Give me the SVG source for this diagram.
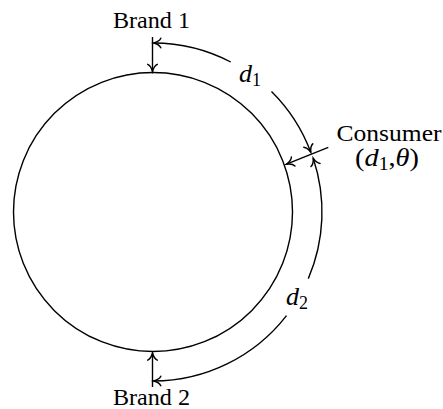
<svg xmlns="http://www.w3.org/2000/svg" width="443" height="409" viewBox="0 0 443 409">
<style>
.ln{fill:none;stroke:#000;stroke-width:1.4}
.t{font-family:"Liberation Serif",serif;font-size:24px;fill:#000}
.m{font-size:26px}
.i{font-style:italic}
.s{font-size:18px}
</style>
<defs>
<marker id="ah" markerUnits="userSpaceOnUse" markerWidth="12" markerHeight="12" viewBox="-7 -5 8 10" refX="0" refY="0" orient="auto-start-reverse">
<path d="M-6,-4 C-5,-1.8 -1.5,-0.4 0,0 C-1.5,0.4 -5,1.8 -6,4" fill="none" stroke="#000" stroke-width="1.2" stroke-linecap="round"/>
</marker>
</defs>
<g id="ring">
<circle class="ln" cx="153" cy="212" r="139.5"/>
</g>
<g id="connectors">
<path class="ln" d="M152.5,37 L152.5,71.5" marker-end="url(#ah)"/>
<path class="ln" d="M152.5,387 L152.5,353" marker-end="url(#ah)"/>
<path class="ln" d="M328.3,147.3 L286.5,164.2" marker-end="url(#ah)"/>
<path class="ln" d="M230.8,62 A169,169 0 0 0 153.6,43" marker-end="url(#ah)"/>
<path class="ln" d="M271.5,91.5 A169,169 0 0 1 310.8,152.3" marker-end="url(#ah)"/>
<path class="ln" d="M308.3,278.6 A169,169 0 0 0 313.2,158.2" marker-end="url(#ah)"/>
<path class="ln" d="M286.5,315.6 A169,169 0 0 1 153.6,381" marker-end="url(#ah)"/>
</g>
<g id="brand1">
<text class="t" x="151.5" y="28" text-anchor="middle" textLength="77" lengthAdjust="spacingAndGlyphs">Brand 1</text>
</g>
<g id="brand2">
<text class="t" x="151.5" y="405" text-anchor="middle" textLength="77" lengthAdjust="spacingAndGlyphs">Brand 2</text>
</g>
<g id="consumer">
<text class="t" x="389" y="140.5" text-anchor="middle" textLength="105" lengthAdjust="spacingAndGlyphs">Consumer</text>
<text class="t m" x="387" y="166" text-anchor="middle" textLength="64" lengthAdjust="spacingAndGlyphs">(<tspan class="i">d</tspan><tspan class="s" dy="4">1</tspan><tspan dy="-4">,</tspan><tspan class="i">θ</tspan>)</text>
</g>
<g id="label-d1">
<text class="t m" x="239" y="81.5"><tspan class="i">d</tspan><tspan class="s" dy="4">1</tspan></text>
</g>
<g id="label-d2">
<text class="t m" x="286" y="305"><tspan class="i">d</tspan><tspan class="s" dy="4">2</tspan></text>
</g>
</svg>
